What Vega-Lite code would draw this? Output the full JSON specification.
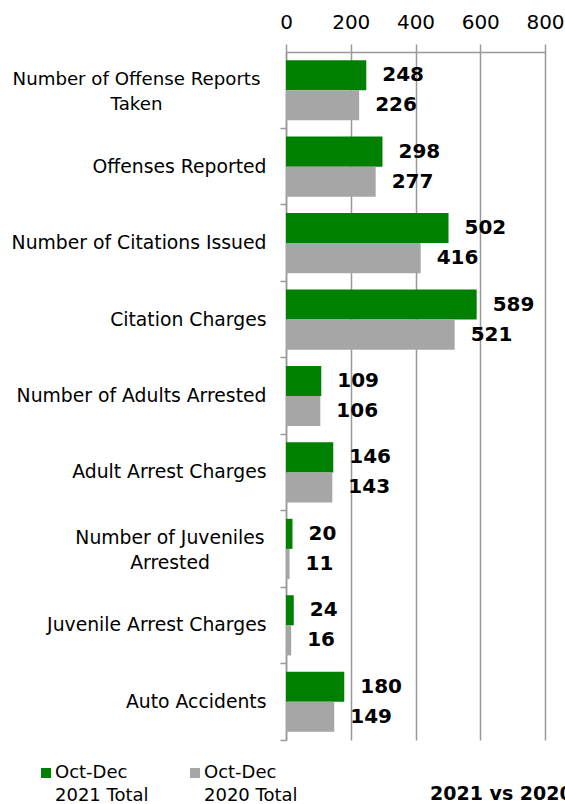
{
  "$schema": "https://vega.github.io/schema/vega-lite/v6.json",
  "width": 259,
  "height": 688,
  "autosize": {"type": "none"},
  "padding": {"left": 286, "top": 52, "right": 20, "bottom": 64},
  "background": "white",
  "config": {"font": "DejaVu Sans", "view": {"stroke": null}},
  "title": {"text": "2021 vs 2020", "orient": "bottom", "anchor": "start", "frame": "group", "dx": 144, "offset": -20, "fontSize": 19, "fontWeight": "bold", "color": "black", "font": "DejaVu Sans"},
  "data": {"values": [
    {"cat": "Number of Offense Reports|Taken", "series": "Oct-Dec|2021 Total", "value": 248},
    {"cat": "Number of Offense Reports|Taken", "series": "Oct-Dec|2020 Total", "value": 226},
    {"cat": "Offenses Reported", "series": "Oct-Dec|2021 Total", "value": 298},
    {"cat": "Offenses Reported", "series": "Oct-Dec|2020 Total", "value": 277},
    {"cat": "Number of Citations Issued", "series": "Oct-Dec|2021 Total", "value": 502},
    {"cat": "Number of Citations Issued", "series": "Oct-Dec|2020 Total", "value": 416},
    {"cat": "Citation Charges", "series": "Oct-Dec|2021 Total", "value": 589},
    {"cat": "Citation Charges", "series": "Oct-Dec|2020 Total", "value": 521},
    {"cat": "Number of Adults Arrested", "series": "Oct-Dec|2021 Total", "value": 109},
    {"cat": "Number of Adults Arrested", "series": "Oct-Dec|2020 Total", "value": 106},
    {"cat": "Adult Arrest Charges", "series": "Oct-Dec|2021 Total", "value": 146},
    {"cat": "Adult Arrest Charges", "series": "Oct-Dec|2020 Total", "value": 143},
    {"cat": "Number of Juveniles|Arrested", "series": "Oct-Dec|2021 Total", "value": 20},
    {"cat": "Number of Juveniles|Arrested", "series": "Oct-Dec|2020 Total", "value": 11},
    {"cat": "Juvenile Arrest Charges", "series": "Oct-Dec|2021 Total", "value": 24},
    {"cat": "Juvenile Arrest Charges", "series": "Oct-Dec|2020 Total", "value": 16},
    {"cat": "Auto Accidents", "series": "Oct-Dec|2021 Total", "value": 180},
    {"cat": "Auto Accidents", "series": "Oct-Dec|2020 Total", "value": 149}
  ]},
  "encoding": {
    "y": {"field": "cat", "type": "nominal", "sort": null, "title": null,
      "scale": {"paddingInner": 0, "paddingOuter": 0},
      "axis": {"orient": "left", "bandPosition": 1, "domainColor": "#999999", "domainWidth": 1.5, "tickColor": "#999999", "tickWidth": 1.5, "tickSize": 6,
        "labelFontSize": {"condition": {"test": "indexof(datum.value, 'Offense Reports') >= 0", "value": 18.2}, "value": 18.8},
        "labelColor": "black", "labelLimit": 300, "labelLineHeight": 25,
        "labelPadding": {"condition": [
          {"test": "indexof(datum.value, 'Offense Reports') >= 0", "value": 144},
          {"test": "indexof(datum.value, 'Juveniles|') >= 0", "value": 110.5}
        ], "value": 14},
        "labelAlign": {"condition": {"test": "indexof(datum.value, '|') >= 0", "value": "center"}, "value": "right"},
        "labelOffset": {"condition": {"test": "indexof(datum.value, '|') >= 0", "value": -10.5}, "value": 0},
        "labelExpr": "split(datum.label, '|')", "grid": false}},
    "yOffset": {"field": "series", "type": "nominal", "sort": null, "scale": {"paddingInner": 0, "paddingOuter": 0.27}},
    "x": {"field": "value", "type": "quantitative", "title": null,
      "scale": {"domain": [0, 800], "nice": false},
      "axis": {"orient": "top", "values": [0, 200, 400, 600, 800], "labelFlush": false, "labelOverlap": false, "domainColor": "#999999", "domainWidth": 1.5, "tickColor": "#999999", "tickWidth": 1.5, "tickSize": 8,
        "labelFontSize": 20, "labelColor": "black", "labelPadding": 12, "grid": true, "gridColor": "#999999", "gridWidth": 1.5}}
  },
  "layer": [
    {"mark": {"type": "bar"},
     "encoding": {
       "color": {"field": "series", "type": "nominal", "sort": null,
         "scale": {"domain": ["Oct-Dec|2021 Total", "Oct-Dec|2020 Total"], "range": ["#008000", "#A6A6A6"]},
         "legend": {"title": null, "orient": "none", "legendX": -249, "legendY": 712, "direction": "horizontal",
           "symbolType": "square", "symbolSize": 100, "symbolStrokeWidth": 0, "labelFontSize": 18, "labelColor": "black",
           "labelOffset": 0, "labelExpr": "split(datum.label, '|')", "columnPadding": 37, "labelLimit": 200,
           "encode": {"labels": {"update": {"lineHeight": {"value": 23}}}}}}
     }},
    {"mark": {"type": "text", "align": "left", "baseline": "middle", "dx": 16, "fontSize": 20, "fontWeight": "bold", "color": "black"},
     "encoding": {"text": {"field": "value", "type": "quantitative"}}}
  ]
}
